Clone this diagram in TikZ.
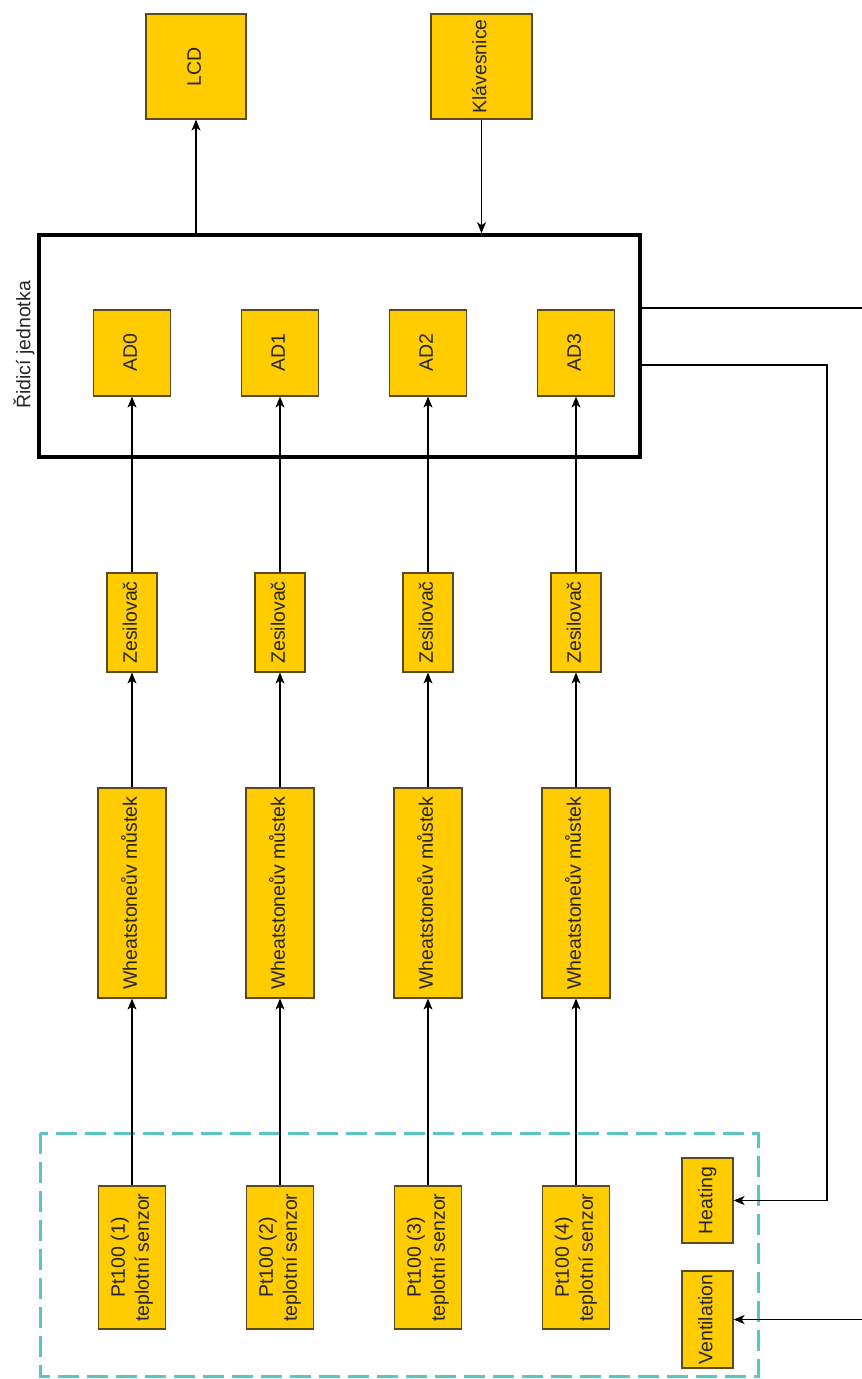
\documentclass[tikz,border=0pt]{standalone}
\usepackage{fontspec}
\setmainfont{Liberation Sans}
\usetikzlibrary{arrows.meta}
\definecolor{blokfill}{HTML}{FFCC00}
\definecolor{blokline}{HTML}{5C4A1E}
\definecolor{senzline}{HTML}{5BC4C4}
\tikzset{
  blok/.style={draw=blokline,fill=blokfill,line width=1.2pt,inner sep=0pt,
    text=black!85,font=\fontsize{19.5}{24}\selectfont},
  vodic/.style={line width=1.1pt},
  spoj/.style={vodic,-{Stealth[length=11pt,width=9pt,inset=3pt]}},
}
\newcommand{\svisle}[1]{\rotatebox{90}{\begin{tabular}{@{}c@{}}#1\end{tabular}}}

\begin{document}
\begin{tikzpicture}[x=1pt,y=-1pt]
            \useasboundingbox (0,0) rectangle (862,1379);
            % ridici jednotka
            \node[draw,line width=3.5pt,minimum width=601pt,minimum height=222pt,inner sep=0pt] (mcu) at (339.5,346) {};
            \node[font=\fontsize{19.5}{24}\selectfont,text=black!85] (mculbl) at (24,345) {\rotatebox{90}{Řidicí jednotka}};
            \node[blok,minimum width=100pt,minimum height=105pt] (lcd) at (196,66.5) {\svisle{LCD}};
            \node[blok,minimum width=101pt,minimum height=105pt] (klav) at (481.5,66.5) {\svisle{Klávesnice}};
            \node[blok,minimum width=77pt,minimum height=86pt] (ad0) at (132,353) {\svisle{AD0}};
            \node[blok,minimum width=77pt,minimum height=86pt] (ad1) at (280,353) {\svisle{AD1}};
            \node[blok,minimum width=77pt,minimum height=86pt] (ad2) at (428,353) {\svisle{AD2}};
            \node[blok,minimum width=77pt,minimum height=86pt] (ad3) at (576,353) {\svisle{AD3}};
            % zesilovace
            \node[blok,minimum width=50pt,minimum height=99pt] (zes0) at (132,622.5) {\svisle{Zesilovač}};
            \node[blok,minimum width=50pt,minimum height=99pt] (zes1) at (280,622.5) {\svisle{Zesilovač}};
            \node[blok,minimum width=50pt,minimum height=99pt] (zes2) at (428,622.5) {\svisle{Zesilovač}};
            \node[blok,minimum width=50pt,minimum height=99pt] (zes3) at (576,622.5) {\svisle{Zesilovač}};
            % mustky
            \node[blok,minimum width=68pt,minimum height=210pt] (most0) at (132,893) {\svisle{Wheatstoneův můstek}};
            \node[blok,minimum width=68pt,minimum height=210pt] (most1) at (280,893) {\svisle{Wheatstoneův můstek}};
            \node[blok,minimum width=68pt,minimum height=210pt] (most2) at (428,893) {\svisle{Wheatstoneův můstek}};
            \node[blok,minimum width=68pt,minimum height=210pt] (most3) at (576,893) {\svisle{Wheatstoneův můstek}};
            % senzory
            \draw[senzline,line width=3pt,dash pattern=on 21pt off 8pt] (40,1133) rectangle (758,1376);
            \node[blok,minimum width=67pt,minimum height=143pt] (pt0) at (132,1257.5) {\svisle{Pt100 (1)\\teplotní senzor}};
            \node[blok,minimum width=67pt,minimum height=143pt] (pt1) at (280,1257.5) {\svisle{Pt100 (2)\\teplotní senzor}};
            \node[blok,minimum width=67pt,minimum height=143pt] (pt2) at (428,1257.5) {\svisle{Pt100 (3)\\teplotní senzor}};
            \node[blok,minimum width=67pt,minimum height=143pt] (pt3) at (576,1257.5) {\svisle{Pt100 (4)\\teplotní senzor}};
            \node[blok,minimum width=51pt,minimum height=85pt] (heat) at (707.5,1200.5) {\svisle{Heating}};
            \node[blok,minimum width=51pt,minimum height=97pt] (vent) at (707.5,1319.5) {\svisle{Ventilation}};
            % spoje
            \draw[spoj] (mcu.north -| lcd.south) -- (lcd.south);
            \draw[spoj] (klav.south) -- (klav.south |- mcu.north);
            \draw[spoj] (pt0) -- (most0);
            \draw[spoj] (pt1) -- (most1);
            \draw[spoj] (pt2) -- (most2);
            \draw[spoj] (pt3) -- (most3);
            \draw[spoj] (most0) -- (zes0);
            \draw[spoj] (most1) -- (zes1);
            \draw[spoj] (most2) -- (zes2);
            \draw[spoj] (most3) -- (zes3);
            \draw[spoj] (zes0) -- (ad0);
            \draw[spoj] (zes1) -- (ad1);
            \draw[spoj] (zes2) -- (ad2);
            \draw[spoj] (zes3) -- (ad3);
            \coordinate (okraj1) at (862,308);
            \coordinate (topeni) at (827,365);
            \coordinate (okraj2) at (862,1319.5);
            \draw[vodic] (mcu.east |- okraj1) -- (okraj1);
            \draw[spoj] (mcu.east |- topeni) -- (topeni) |- (heat.east);
            \draw[spoj] (okraj2) -- (vent.east);
        \end{tikzpicture}
\end{document}
